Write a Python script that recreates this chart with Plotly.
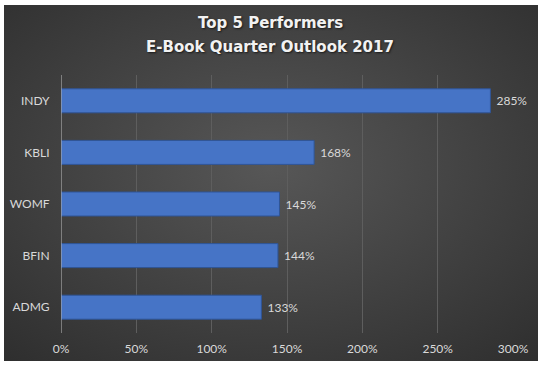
import base64
import plotly.graph_objects as go

categories = ["INDY", "KBLI", "WOMF", "BFIN", "ADMG"]
values = [2.85, 1.68, 1.45, 1.44, 1.33]
labels = ["285%", "168%", "145%", "144%", "133%"]
tick_vals = [0, 0.5, 1.0, 1.5, 2.0, 2.5, 3.0]
tick_text = ["0%", "50%", "100%", "150%", "200%", "250%", "300%"]
title_lines = ["Top 5 Performers", "E-Book Quarter Outlook 2017"]

svg = """<svg xmlns='http://www.w3.org/2000/svg' width='534' height='356' preserveAspectRatio='none'>
<defs><radialGradient id='g' cx='50%' cy='45%' r='75%'>
<stop offset='0%' stop-color='#575757'/><stop offset='100%' stop-color='#2e2e2e'/>
</radialGradient></defs>
<rect width='534' height='356' fill='url(#g)'/></svg>"""
bg_src = "data:image/svg+xml;base64," + base64.b64encode(svg.encode()).decode()

fig = go.Figure()
fig.add_trace(go.Bar(
    y=categories, x=values, orientation="h",
    marker=dict(color="#4674c6", line=dict(color="#2f5597", width=1)),
    text=labels, texttemplate="\u00a0%{text}", textposition="outside", cliponaxis=False,
    textfont=dict(color="#d9d9d9", size=12, family="Lato"),
    width=0.465,
))

W, H = 542, 368
l, r, t, b = 61, 29, 75, 35
pw, ph = W - l - r, H - t - b
x0 = (4 - l) / pw
x1 = (538 - l) / pw
ytop = (H - b - 5) / ph
ybot = (H - b - 361) / ph

def py(pix):
    return (H - b - pix) / ph

title_font = dict(family="DejaVu Sans", size=15, color="#f2f2f2",
                  weight="bold", shadow="1px 1px 2px #1a1a1a")
annotations = [
    dict(text=title_lines[0], xref="paper", yref="paper", x=(270 - l) / pw, y=py(23),
         xanchor="center", yanchor="middle", showarrow=False, font=title_font),
    dict(text=title_lines[1], xref="paper", yref="paper", x=(270 - l) / pw, y=py(47),
         xanchor="center", yanchor="middle", showarrow=False, font=title_font),
]

fig.update_layout(
    width=W, height=H,
    margin=dict(l=l, r=r, t=t, b=b, autoexpand=False),
    paper_bgcolor="white",
    plot_bgcolor="rgba(0,0,0,0)",
    showlegend=False,
    annotations=annotations,
    xaxis=dict(
        range=[0, 3], tickvals=tick_vals, ticktext=tick_text,
        showgrid=True, gridcolor="#5e5e5e", gridwidth=1,
        zeroline=False, showline=False,
        tickfont=dict(color="#d9d9d9", size=12, family="Lato"),
        ticks="outside", ticklen=5, tickcolor="rgba(0,0,0,0)",
        fixedrange=True, automargin=False,
    ),
    yaxis=dict(
        categoryorder="array", categoryarray=categories[::-1],
        showgrid=False, zeroline=False, showline=False,
        tickfont=dict(color="#d9d9d9", size=12, family="Lato"),
        ticks="outside", ticklen=8, tickcolor="rgba(0,0,0,0)", automargin=False,
    ),
    images=[dict(
        source=bg_src, xref="paper", yref="paper",
        x=x0, y=ytop, sizex=x1 - x0, sizey=ytop - ybot,
        xanchor="left", yanchor="top", sizing="stretch", layer="below",
    )],
    shapes=[dict(type="line", xref="x", yref="paper", x0=0, x1=0, y0=0, y1=1,
                 line=dict(color="#bfbfbf", width=1))],
)

fig.write_html("out.html", config={"displayModeBar": False},
               post_script="document.body.style.margin='0';")
